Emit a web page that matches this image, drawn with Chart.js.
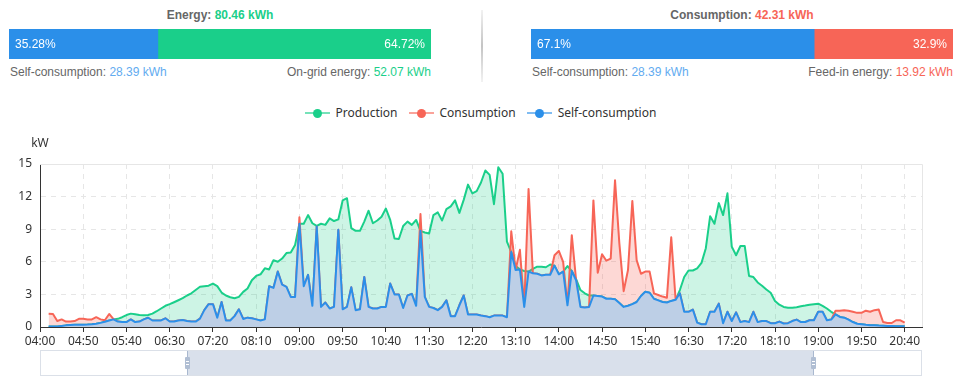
<!DOCTYPE html>
<html>
<head>
<meta charset="utf-8">
<script src="https://cdn.jsdelivr.net/npm/chart.js@4.4.1/dist/chart.umd.min.js"></script>
<style>
  html, body { margin: 0; padding: 0; background: #fff; }
  body { width: 961px; height: 386px; position: relative; overflow: hidden;
         font-family: "Liberation Sans", Arial, sans-serif; font-size: 12px; color: #666; }
  .panel { position: absolute; top: 0; width: 422px; height: 90px; }
  .title { position: absolute; left: 0; right: 0; top: 7px; line-height: 17px; text-align: center; font-weight: bold; }
  .bar { position: absolute; left: 0; top: 29px; }
  .foot { position: absolute; left: 0; right: 0; top: 64px; line-height: 17px; }
  .foot .l { position: absolute; left: 1px; top: 0; }
  .foot .r { position: absolute; right: 0; top: 0; }
  .g { color: #1acf8a; } .b { color: #62abf0; } .red { color: #f76557; }
  #sep { position: absolute; left: 481px; top: 10px; width: 2px; height: 72px;
         background: linear-gradient(to bottom, rgba(190,190,190,0.2), #c4c4c4 50%, rgba(190,190,190,0.2)); }
  #legend { position: absolute; top: 104px; left: 0; width: 961px; height: 18px; line-height: 18px;
            display: flex; justify-content: center; gap: 11px;
            font-family: "Noto Sans", sans-serif; font-size: 12px; color: #333; }
  #legend .item { display: flex; align-items: center; }
  #legend .ico { position: relative; width: 25px; height: 18px; margin-right: 6px; }
  #legend .ico::before { content: ""; position: absolute; left: 0; top: 8px; width: 25px; height: 2px; background: var(--c); opacity: .6; }
  #legend .ico::after { content: ""; position: absolute; left: 8px; top: 4.5px; width: 9px; height: 9px; border-radius: 50%; background: var(--c); }
  #main { position: absolute; left: 0; top: 130px; }
  #zoom { position: absolute; left: 40px; top: 350px; width: 882px; height: 26px; box-sizing: border-box; border: 1px solid #dbe0e8; }
  #zoom .sel { position: absolute; left: 146px; top: 0; width: 626px; height: 24px; background: #d9e0eb; }
  #zoom .edge { position: absolute; top: 0; width: 1px; height: 24px; background: #a9b8cf; }
  #zoom .handle { position: absolute; top: 6px; width: 5px; height: 12px; margin-left: -2px; background: #b0bed3; border-radius: 1px; }
  #zoom .handle::before, #zoom .handle::after { content: ""; position: absolute; left: 1px; width: 3px; height: 1px; background: #fff; }
  #zoom .handle::before { top: 4px; } #zoom .handle::after { top: 7px; }
</style>
</head>
<body>

<div class="panel" style="left:9px">
  <div class="title">Energy: <span class="g">80.46 kWh</span></div>
  <canvas class="bar" id="energyBar" width="422" height="30"></canvas>
  <div class="foot">
    <span class="l">Self-consumption: <span class="b">28.39 kWh</span></span>
    <span class="r">On-grid energy: <span class="g">52.07 kWh</span></span>
  </div>
</div>
<div id="sep"></div>
<div class="panel" style="left:531px">
  <div class="title">Consumption: <span class="red">42.31 kWh</span></div>
  <canvas class="bar" id="consBar" width="422" height="30"></canvas>
  <div class="foot">
    <span class="l">Self-consumption: <span class="b">28.39 kWh</span></span>
    <span class="r">Feed-in energy: <span class="red">13.92 kWh</span></span>
  </div>
</div>

<div id="legend">
  <span class="item"><span class="ico" style="--c:#1acf8a"></span>Production</span>
  <span class="item"><span class="ico" style="--c:#f76557"></span>Consumption</span>
  <span class="item"><span class="ico" style="--c:#2b8fe9"></span>Self-consumption</span>
</div>

<canvas id="main" width="961" height="256"></canvas>

<div id="zoom">
  <div class="sel"></div>
  <div class="edge" style="left:146px"></div>
  <div class="edge" style="left:772px"></div>
  <div class="handle" style="left:146px"></div>
  <div class="handle" style="left:772px"></div>
</div>

<script>
// shares for the two top bars (percent)
const energyShare = [35.28, 64.72];
const consumptionShare = [67.1, 32.9];

// x categories, every 5 minutes
const times = [
  "04:00","04:05","04:10","04:15","04:20","04:25","04:30","04:35","04:40","04:45","04:50","04:55",
  "05:00","05:05","05:10","05:15","05:20","05:25","05:30","05:35","05:40","05:45","05:50","05:55",
  "06:00","06:05","06:10","06:15","06:20","06:25","06:30","06:35","06:40","06:45","06:50","06:55",
  "07:00","07:05","07:10","07:15","07:20","07:25","07:30","07:35","07:40","07:45","07:50","07:55",
  "08:00","08:05","08:10","08:15","08:20","08:25","08:30","08:35","08:40","08:45","08:50","08:55",
  "09:00","09:05","09:10","09:15","09:20","09:25","09:30","09:35","09:40","09:45","09:50","09:55",
  "10:00","10:05","10:10","10:15","10:20","10:25","10:30","10:35","10:40","10:45","10:50","10:55",
  "11:00","11:05","11:10","11:15","11:20","11:25","11:30","11:35","11:40","11:45","11:50","11:55",
  "12:00","12:05","12:10","12:15","12:20","12:25","12:30","12:35","12:40","12:45","12:50","12:55",
  "13:00","13:05","13:10","13:15","13:20","13:25","13:30","13:35","13:40","13:45","13:50","13:55",
  "14:00","14:05","14:10","14:15","14:20","14:25","14:30","14:35","14:40","14:45","14:50","14:55",
  "15:00","15:05","15:10","15:15","15:20","15:25","15:30","15:35","15:40","15:45","15:50","15:55",
  "16:00","16:05","16:10","16:15","16:20","16:25","16:30","16:35","16:40","16:45","16:50","16:55",
  "17:00","17:05","17:10","17:15","17:20","17:25","17:30","17:35","17:40","17:45","17:50","17:55",
  "18:00","18:05","18:10","18:15","18:20","18:25","18:30","18:35","18:40","18:45","18:50","18:55",
  "19:00","19:05","19:10","19:15","19:20","19:25","19:30","19:35","19:40","19:45","19:50","19:55",
  "20:00","20:05","20:10","20:15","20:20","20:25","20:30","20:35","20:40","20:45","20:50","20:55",
  "21:00"
];

// kW
const production = [
  null,null,0.05,0.05,0.05,0.1,0.15,0.18,0.2,0.2,
  0.2,0.22,0.25,0.3,0.38,0.48,0.6,0.7,0.75,0.9,
  1.1,1.23,1.17,1.1,1.08,1.1,1.23,1.45,1.7,1.95,
  2.1,2.28,2.46,2.65,2.9,3.1,3.4,3.7,3.76,3.8,
  4.0,3.76,3.17,2.9,2.74,2.65,2.77,3.23,3.55,4.3,
  4.7,4.85,5.4,5.3,6.15,6.0,6.3,6.8,6.85,7.55,
  9.5,9.5,10.3,9.55,9.3,9.5,9.4,10.0,9.75,9.9,
  11.65,11.85,9.1,8.85,8.85,9.7,10.7,9.55,9.8,10.15,
  10.9,9.85,8.15,8.1,9.3,9.7,9.4,9.85,8.85,8.7,
  8.6,10.3,10.55,9.8,10.85,11.1,11.65,10.5,11.7,13.1,
  12.3,12.5,13.3,14.4,14.0,11.3,14.7,14.1,7.85,6.9,
  5.6,5.3,5.15,5.1,5.35,5.55,5.55,5.5,5.75,5.65,
  4.85,5.1,5.6,5.15,4.4,3.4,3.1,2.9,2.9,2.86,
  2.8,2.6,2.6,2.55,2.2,1.85,1.95,2.1,2.3,2.85,
  3.25,3.15,2.6,2.45,2.3,2.25,2.4,2.5,3.4,4.6,
  5.2,5.2,5.4,5.9,7.25,10.2,9.5,11.4,10.3,12.3,
  7.4,6.6,7.45,7.45,4.7,4.6,4.1,3.8,3.45,3.15,
  2.4,2.05,1.85,1.78,1.78,1.82,1.9,1.97,2.05,2.1,
  2.15,1.95,1.7,1.4,1.17,0.93,0.86,0.68,0.46,0.3,
  0.25,0.2,0.17,0.15,0.13,0.12,0.1,0.1,0.08,0.07,
  0.06,null,null,null,null
];
const consumption = [
  null,null,1.23,1.2,0.55,0.7,0.5,0.5,0.55,0.75,
  0.75,0.7,0.7,0.9,0.7,0.62,1.2,0.72,0.5,0.45,
  0.45,0.7,0.45,0.5,0.7,0.85,0.6,0.6,0.6,0.8,
  0.5,0.5,0.6,0.65,0.55,0.5,0.5,0.77,1.55,2.1,
  2.1,0.86,2.3,0.6,0.6,1.0,1.63,0.74,0.86,0.8,
  0.7,0.6,0.7,3.75,3.6,5.1,3.9,3.7,2.77,2.77,
  10.1,3.75,4.8,1.95,9.25,1.85,2.25,1.7,1.85,8.95,
  1.63,1.85,3.65,1.55,1.63,4.6,1.85,1.7,1.7,1.85,
  1.85,4.0,3.0,3.0,1.75,2.9,3.05,1.95,10.4,2.77,
  1.85,1.75,1.55,1.85,2.45,1.0,1.0,2.0,2.9,1.15,
  1.15,1.15,1.05,1.0,0.9,1.05,1.05,1.05,0.9,8.8,
  5.25,7.1,1.85,12.7,4.95,4.9,4.75,4.8,4.8,6.6,
  7.0,6.0,2.0,8.45,4.3,1.85,1.8,1.85,11.65,5.0,
  6.7,6.1,6.3,13.5,7.7,3.3,5.25,11.6,6.15,4.9,
  5.1,5.1,3.1,2.95,2.8,2.7,8.25,2.6,3.1,1.4,
  1.4,1.6,0.4,0.25,0.25,1.4,1.4,2.15,0.35,1.4,
  0.55,1.35,0.45,0.55,0.45,1.4,0.45,0.55,0.55,0.35,
  0.35,0.5,0.32,0.35,0.55,0.68,0.46,0.46,0.62,0.62,
  1.4,1.4,0.62,0.68,1.5,1.5,1.55,1.5,1.4,1.3,
  1.3,1.5,1.4,1.55,1.6,0.46,0.37,0.37,0.62,0.62,
  0.4,null,null,null,null
];
const selfUse = [
  null,null,0.05,0.05,0.05,0.1,0.15,0.18,0.2,0.2,
  0.2,0.22,0.25,0.3,0.38,0.48,0.6,0.7,0.5,0.45,
  0.45,0.7,0.45,0.5,0.7,0.85,0.6,0.6,0.6,0.8,
  0.5,0.5,0.6,0.65,0.55,0.5,0.5,0.77,1.55,2.1,
  2.1,0.86,2.3,0.6,0.6,1.0,1.63,0.74,0.86,0.8,
  0.7,0.6,0.7,3.75,3.6,5.1,3.9,3.7,2.77,2.77,
  9.5,3.75,4.8,1.95,9.25,1.85,2.25,1.7,1.85,8.95,
  1.63,1.85,3.65,1.55,1.63,4.6,1.85,1.7,1.7,1.85,
  1.85,4.0,3.0,3.0,1.75,2.9,3.05,1.95,8.85,2.77,
  1.85,1.75,1.55,1.85,2.45,1.0,1.0,2.0,2.9,1.15,
  1.15,1.15,1.05,1.0,0.9,1.05,1.05,1.05,0.9,6.9,
  5.25,5.3,1.85,5.1,4.95,4.9,4.75,4.8,4.8,5.65,
  4.85,5.1,2.0,5.15,4.3,1.85,1.8,1.85,2.9,2.86,
  2.8,2.6,2.6,2.55,2.2,1.85,1.95,2.1,2.3,2.85,
  3.25,3.15,2.6,2.45,2.3,2.25,2.4,2.5,3.1,1.4,
  1.4,1.6,0.4,0.25,0.25,1.4,1.4,2.15,0.35,1.4,
  0.55,1.35,0.45,0.55,0.45,1.4,0.45,0.55,0.55,0.35,
  0.35,0.5,0.32,0.35,0.55,0.68,0.46,0.46,0.62,0.62,
  1.4,1.4,0.62,0.68,1.17,0.93,0.86,0.68,0.46,0.3,
  0.25,0.2,0.17,0.15,0.13,0.12,0.1,0.1,0.08,0.07,
  0.06,null,null,null,null
];
const yTicks = [0, 3, 6, 9, 12, 15];

const GREEN = "#1acf8a", RED = "#f76557", BLUE = "#2b8fe9";
const FONT = { family: '"Noto Sans", sans-serif', size: 12 };

// percent text inside the top bars
const shareLabels = {
  id: "shareLabels",
  afterDatasetsDraw(chart) {
    const ctx = chart.ctx;
    ctx.save();
    ctx.font = '12px "Liberation Sans", Arial, sans-serif';
    ctx.fillStyle = "#fff";
    ctx.textBaseline = "middle";
    chart.data.datasets.forEach((ds, i) => {
      const bar = chart.getDatasetMeta(i).data[0];
      const text = ds.data[0] + "%";
      if (i === 0) { ctx.textAlign = "left"; ctx.fillText(text, bar.base + 6, bar.y + 1); }
      else { ctx.textAlign = "right"; ctx.fillText(text, bar.x - 6, bar.y + 1); }
    });
    ctx.restore();
  }
};

function shareBar(id, values, colors) {
  new Chart(document.getElementById(id), {
    type: "bar",
    data: {
      labels: [""],
      datasets: values.map((v, i) => ({
        data: [v], backgroundColor: colors[i], borderWidth: 0,
        barPercentage: 1, categoryPercentage: 1
      }))
    },
    options: {
      indexAxis: "y", responsive: false, animation: false, events: [],
      layout: { padding: 0 },
      scales: {
        x: { stacked: true, min: 0, max: 100, display: false },
        y: { stacked: true, display: false }
      },
      plugins: { legend: { display: false }, tooltip: { enabled: false } }
    },
    plugins: [shareLabels]
  });
}

shareBar("energyBar", energyShare, [BLUE, GREEN]);
shareBar("consBar", consumptionShare, [BLUE, RED]);

// solid top/right frame + unit label
const frame = {
  id: "frame",
  beforeDatasetsDraw(chart) {
    const { ctx, chartArea: a } = chart;
    ctx.save();
    ctx.strokeStyle = "#e6e6e6";
    ctx.lineWidth = 1;
    ctx.beginPath();
    ctx.moveTo(a.left, Math.round(a.top) + 0.5);
    ctx.lineTo(Math.round(a.right) + 0.5, Math.round(a.top) + 0.5);
    ctx.lineTo(Math.round(a.right) + 0.5, a.bottom);
    ctx.stroke();
    ctx.restore();
  },
  afterDraw(chart) {
    const { ctx, chartArea: a } = chart;
    ctx.save();
    ctx.font = '12px "Noto Sans", sans-serif';
    ctx.fillStyle = "#333";
    ctx.textAlign = "center";
    ctx.textBaseline = "middle";
    ctx.fillText("kW", a.left, a.top - 20);
    ctx.restore();
  }
};

const labelled = c => c.index % 10 === 0;

new Chart(document.getElementById("main"), {
  type: "line",
  data: {
    labels: times,
    datasets: [
      { label: "Production", data: production, borderColor: GREEN,
        backgroundColor: "rgba(26,207,138,0.22)", fill: "origin", order: 2 },
      { label: "Consumption", data: consumption, borderColor: RED,
        backgroundColor: "rgba(247,101,87,0.25)", fill: "origin", order: 1 },
      { label: "Self-consumption", data: selfUse, borderColor: BLUE,
        backgroundColor: "rgb(189,207,230)", fill: "origin", order: 0 }
    ]
  },
  options: {
    responsive: false, animation: false, events: [],
    elements: {
      point: { radius: 0 },
      line: { borderWidth: 2, tension: 0, borderJoinStyle: "round" }
    },
    layout: { padding: { left: 0, right: 39, top: 34, bottom: 35 } },
    scales: {
      x: {
        type: "category", offset: false,
        grid: {
          color: c => labelled(c) ? "#e6e6e6" : "rgba(0,0,0,0)",
          tickColor: c => labelled(c) ? "#333" : "rgba(0,0,0,0)",
          tickLength: 5
        },
        border: { color: "#333", dash: [5, 5] },
        ticks: {
          autoSkip: false, maxRotation: 0, minRotation: 0, padding: 2,
          color: "#333", font: FONT,
          callback: (v, i) => (i % 10 === 0 ? times[i] : "")
        },
        afterFit: s => { s.height = 24; }
      },
      y: {
        min: 0, max: 15,
        afterBuildTicks: s => { s.ticks = yTicks.map(v => ({ value: v })); },
        grid: {
          color: c => (c.tick && c.tick.value === 15 ? "rgba(0,0,0,0)" : "#e6e6e6"),
          drawTicks: false
        },
        border: { color: "#333", dash: [5, 5] },
        ticks: { padding: 8, color: "#333", font: FONT },
        afterFit: s => { s.width = 40; }
      }
    },
    plugins: { legend: { display: false }, tooltip: { enabled: false } }
  },
  plugins: [frame]
});
</script>
</body>
</html>
